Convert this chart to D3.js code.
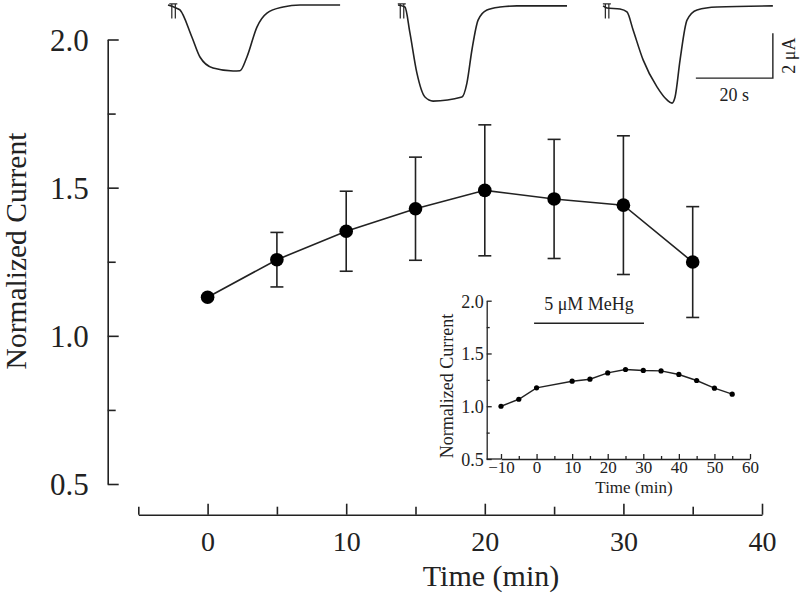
<!DOCTYPE html>
<html><head><meta charset="utf-8">
<script src="https://cdn.jsdelivr.net/npm/d3@7"></script>
<style>
html,body{margin:0;padding:0;background:#fff;}
svg text{font-family:"Liberation Serif","Times New Roman",serif;fill:#222;}
</style>
</head><body>
<svg id="chart" width="800" height="593"></svg>
<script>
// ---------- data ----------
const mainTime = [0, 5, 10, 15, 20, 25, 30, 35];
const mainMean = [1.13, 1.257, 1.353, 1.429, 1.491, 1.462, 1.441, 1.249];
const mainSEM  = [0, 0.092, 0.135, 0.174, 0.221, 0.201, 0.234, 0.187];

const mainXMajor = [0, 10, 20, 30, 40];
const mainXMinor = [-5, 5, 15, 25, 35];
const mainYMajor = [0.5, 1.0, 1.5, 2.0];
const mainYMinor = [0.75, 1.25, 1.75];

const insetTime = [-10, -5, 0, 10, 15, 20, 25, 30, 35, 40, 45, 50, 55];
const insetMean = [1.0, 1.066, 1.174, 1.237, 1.256, 1.316, 1.348, 1.339, 1.335, 1.301, 1.244, 1.171, 1.114];
const insetXMajor = [-10, 0, 10, 20, 30, 40, 50, 60];
const insetXMinor = [-5, 5, 15, 25, 35, 45, 55];
const insetYMajor = [0.5, 1.0, 1.5, 2.0];
const insetYMinor = [0.75, 1.25, 1.75];
const drugBar = [-0.7, 30.2];
const drugLabel = "5 μM MeHg";

// current traces: time (s) and current (μA)
const trace1T = [0, 2.1, 3.1, 6.2, 8.3, 11.7, 16.9, 18.7, 20.5, 23.1, 25.7, 29.9, 34.3, 44.7];
const trace1I = [0, -0.13, -0.22, -1.42, -2.31, -2.8, -2.93, -2.92, -2.31, -0.98, -0.36, -0.09, 0, 0];
const trace2T = [0, 1.8, 3.1, 4.9, 7.0, 9.1, 16.6, 17.9, 19.2, 20.8, 23.1, 26.5, 30.9, 43.9];
const trace2I = [0, -0.09, -1.24, -3.02, -4.09, -4.27, -4.09, -3.47, -2.0, -0.67, -0.22, -0.09, -0.04, -0.04];
const trace3T = [0.8, 1.8, 5.2, 7.0, 8.6, 11.2, 14.8, 17.4, 18.7, 19.5, 20.8, 22.6, 25.2, 30.4, 44.9];
const trace3I = [-0.04, -0.13, -0.18, -0.31, -1.11, -2.44, -3.64, -4.22, -4.36, -4.09, -2.44, -0.67, -0.22, -0.09, -0.04];
const stimT = [0.6, 0.2, 1.0];
const scaleBarSec = 20;
const scaleBarUA = 2;

// ---------- drawing ----------
const svg = d3.select("#chart");
const ink = "#222";

// main scales
const x = d3.scaleLinear().domain([-5, 40]).range([138.3, 762]);
const y = d3.scaleLinear().domain([0.5, 2.0]).range([484, 39.5]);

// main x axis
const gx = svg.append("g").attr("transform", "translate(0,514.7)");
gx.call(d3.axisBottom(x).tickValues(mainXMajor).tickSizeInner(-11).tickSizeOuter(0).tickFormat(d3.format("d")));
gx.append("g").call(d3.axisBottom(x).tickValues(mainXMinor).tickSizeInner(-8).tickSizeOuter(0).tickFormat(""))
  .select(".domain").remove();
gx.selectAll("text").attr("y", 36).attr("dy", 0).style("font-size", "28px");

// main y axis
const gy = svg.append("g").attr("transform", "translate(107.7,0)");
gy.call(d3.axisLeft(y).tickValues(mainYMajor).tickSizeInner(-11).tickSizeOuter(0).tickFormat(d3.format(".1f")));
gy.append("g").call(d3.axisLeft(y).tickValues(mainYMinor).tickSizeInner(-8).tickSizeOuter(0).tickFormat(""))
  .select(".domain").remove();
gy.selectAll("text").attr("x", -19).attr("dy", "0.35em").style("font-size", "31px");

svg.selectAll(".domain, .tick line").attr("stroke", ink).attr("stroke-width", 1.6);

svg.append("text").attr("x", 491).attr("y", 586).attr("text-anchor", "middle")
  .style("font-size", "30px").text("Time (min)");
svg.append("text").attr("transform", "translate(25.5,251) rotate(-90)").attr("text-anchor", "middle")
  .style("font-size", "29.5px").text("Normalized Current");

// main data
const mainData = mainTime.map((t, i) => ({t, m: mainMean[i], e: mainSEM[i]}));
const eb = svg.append("g").attr("stroke", ink).attr("stroke-width", 1.6);
mainData.filter(d => d.e > 0).forEach(d => {
  eb.append("line").attr("x1", x(d.t)).attr("x2", x(d.t)).attr("y1", y(d.m - d.e)).attr("y2", y(d.m + d.e));
  eb.append("line").attr("x1", x(d.t) - 6.5).attr("x2", x(d.t) + 6.5).attr("y1", y(d.m + d.e)).attr("y2", y(d.m + d.e));
  eb.append("line").attr("x1", x(d.t) - 6.5).attr("x2", x(d.t) + 6.5).attr("y1", y(d.m - d.e)).attr("y2", y(d.m - d.e));
});
svg.append("path").datum(mainData)
  .attr("d", d3.line().x(d => x(d.t)).y(d => y(d.m)))
  .attr("fill", "none").attr("stroke", ink).attr("stroke-width", 1.6);
svg.append("g").selectAll("circle").data(mainData).join("circle")
  .attr("cx", d => x(d.t)).attr("cy", d => y(d.m)).attr("r", 6.8).attr("fill", "#000");

// ---------- inset ----------
const ix = d3.scaleLinear().domain([-10, 60]).range([501, 750]);
const iy = d3.scaleLinear().domain([0.5, 2.0]).range([459, 300.7]);
const ixAxisLeft = 486.7;

const igx = svg.append("g").attr("transform", "translate(0,459)");
igx.call(d3.axisBottom(ix).tickValues(insetXMajor).tickSizeInner(-5).tickSizeOuter(0).tickFormat(d3.format("d")));
igx.append("g").call(d3.axisBottom(ix).tickValues(insetXMinor).tickSizeInner(-3).tickSizeOuter(0).tickFormat(""))
  .select(".domain").remove();
igx.append("line").attr("x1", ixAxisLeft).attr("x2", ix(-10)).attr("y1", 0).attr("y2", 0);
igx.selectAll("text").attr("y", 14).attr("dy", 0).style("font-size", "17px");

const igy = svg.append("g").attr("transform", `translate(${ixAxisLeft},0)`);
igy.call(d3.axisLeft(iy).tickValues(insetYMajor).tickSizeInner(-5).tickSizeOuter(0).tickFormat(d3.format(".1f")));
igy.append("g").call(d3.axisLeft(iy).tickValues(insetYMinor).tickSizeInner(-3).tickSizeOuter(0).tickFormat(""))
  .select(".domain").remove();
igy.selectAll("text").attr("x", -3).attr("dy", "0.35em").style("font-size", "18px");

igx.selectAll(".domain, .tick line, line").attr("stroke", ink).attr("stroke-width", 1.3);
igy.selectAll(".domain, .tick line").attr("stroke", ink).attr("stroke-width", 1.3);

svg.append("text").attr("x", 634).attr("y", 492.5).attr("text-anchor", "middle")
  .style("font-size", "17px").text("Time (min)");
svg.append("text").attr("transform", "translate(453,386) rotate(-90)").attr("text-anchor", "middle")
  .style("font-size", "18px").text("Normalized Current");

const insetData = insetTime.map((t, i) => ({t, m: insetMean[i]}));
svg.append("path").datum(insetData)
  .attr("d", d3.line().x(d => ix(d.t)).y(d => iy(d.m)))
  .attr("fill", "none").attr("stroke", ink).attr("stroke-width", 1.4);
svg.append("g").selectAll("circle").data(insetData).join("circle")
  .attr("cx", d => ix(d.t)).attr("cy", d => iy(d.m)).attr("r", 2.6).attr("fill", "#000");

svg.append("line").attr("x1", ix(drugBar[0])).attr("x2", ix(drugBar[1]))
  .attr("y1", 323.3).attr("y2", 323.3).attr("stroke", ink).attr("stroke-width", 1.4);
svg.append("text").attr("x", (ix(drugBar[0]) + ix(drugBar[1])) / 2).attr("y", 310)
  .attr("text-anchor", "middle").style("font-size", "18px").text(drugLabel);

// ---------- current traces ----------
const traces = [
  {T: trace1T, I: trace1I, x0: 168},
  {T: trace2T, I: trace2I, x0: 398},
  {T: trace3T, I: trace3I, x0: 600}
];
const pxPerSec = 77 / 20, pxPerUA = 22.5;
const ty = d3.scaleLinear().domain([0, -2]).range([5, 5 + 2 * pxPerUA]);
traces.forEach((tr, k) => {
  const tx = d3.scaleLinear().domain([0, 20]).range([tr.x0, tr.x0 + 20 * pxPerSec]);
  const pts = tr.T.map((t, i) => [t, tr.I[i]]);
  svg.append("path").datum(pts)
    .attr("d", d3.line().x(d => tx(d[0])).y(d => ty(d[1])).curve(d3.curveMonotoneX))
    .attr("fill", "none").attr("stroke", ink).attr("stroke-width", 1.6);
  // stimulus artifact mark
  const sx = tx(stimT[k]);
  const g = svg.append("g").attr("stroke", ink).attr("stroke-width", 1.2).attr("fill", "none");
  g.append("line").attr("x1", sx - 1).attr("x2", sx + 7).attr("y1", ty(0.05)).attr("y2", ty(0.05));
  g.append("line").attr("x1", sx + 1.5).attr("x2", sx + 1.5).attr("y1", ty(0.05)).attr("y2", ty(-0.6));
  g.append("line").attr("x1", sx + 5).attr("x2", sx + 5).attr("y1", ty(0.05)).attr("y2", ty(-0.6));
});

// scale bar (anchored to the end of trace 3)
const sbx = d3.scaleLinear().domain([0, 20]).range([600, 600 + 20 * pxPerSec]);
const sbRight = sbx(trace3T[trace3T.length - 1]);
const sbBottom = ty(-3.25);
svg.append("path")
  .attr("d", `M${sbRight - scaleBarSec * pxPerSec},${sbBottom}H${sbRight}V${sbBottom - scaleBarUA * pxPerUA}`)
  .attr("fill", "none").attr("stroke", ink).attr("stroke-width", 1.4);
svg.append("text").attr("x", sbRight - scaleBarSec * pxPerSec / 2).attr("y", 101)
  .attr("text-anchor", "middle").style("font-size", "18px").text(scaleBarSec + " s");
svg.append("text").attr("transform", `translate(795,${sbBottom - scaleBarUA * pxPerUA / 2}) rotate(-90)`)
  .attr("text-anchor", "middle").style("font-size", "18px").text(scaleBarUA + " μA");
</script>
</body></html>
